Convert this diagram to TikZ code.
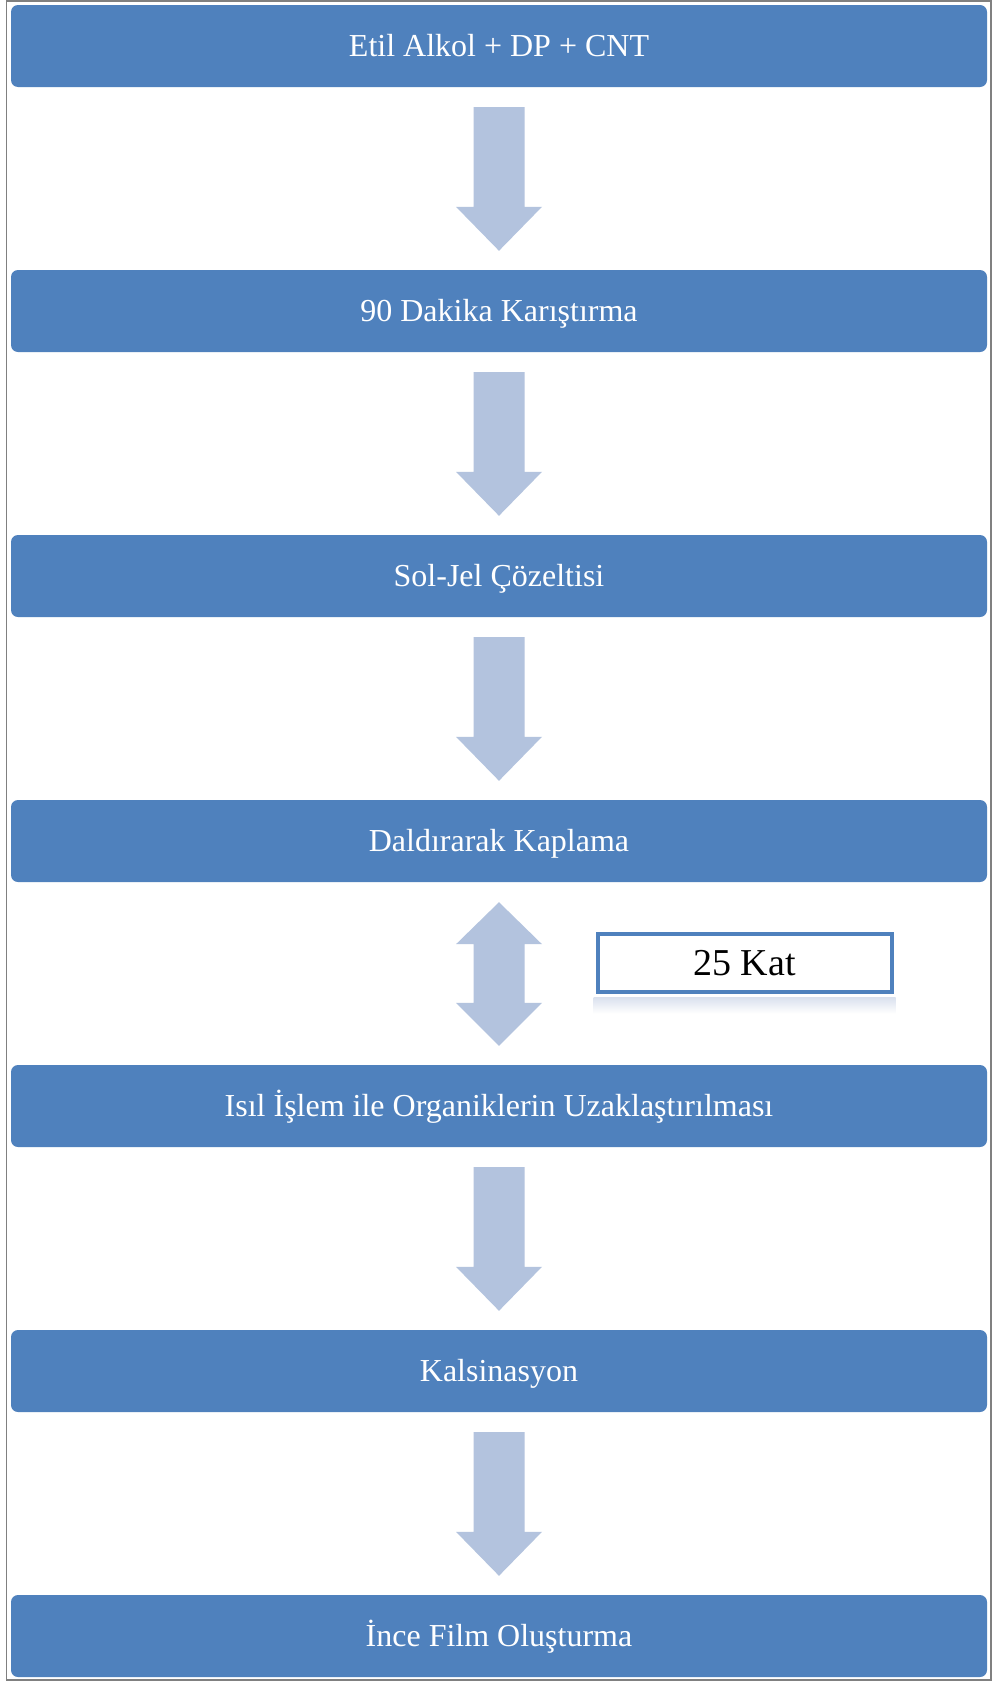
\documentclass[tikz,border=0pt]{standalone}
\usepackage{fontspec}
\setmainfont{Liberation Serif}
\usetikzlibrary{calc}
\definecolor{boxblue}{RGB}{79,129,189}
\definecolor{arrowblue}{RGB}{179,195,222}
\definecolor{framegray}{RGB}{128,128,128}
\definecolor{reflect}{RGB}{218,225,238}
\tikzset{
  stepbox/.style={fill=boxblue, rounded corners=7pt, minimum width=976pt, minimum height=82pt,
    inner sep=0pt, text=white, font=\fontsize{32}{38}\selectfont, draw=none,
    text height=21.6pt, text depth=0pt},
  katbox/.style={draw=boxblue, line width=4pt, fill=white, minimum width=294pt, minimum height=58pt,
    inner sep=0pt, text=black, font=\fontsize{38}{44}\selectfont,
    text height=25.7pt, text depth=0pt},
  blockarrow/.style={fill=arrowblue, draw=none},
  frameline/.style={draw=framegray, line width=1.5pt},
}
\newcommand\downblock[2]{%
  \fill[blockarrow] ($(#1.south)+(-25.5,20)$) -- ($(#1.south)+(25.5,20)$)
    -- ($(#2.north)+(25.5,-63)$) -- ($(#2.north)+(43,-63)$) -- ($(#2.north)+(0,-19)$)
    -- ($(#2.north)+(-43,-63)$) -- ($(#2.north)+(-25.5,-63)$) -- cycle;}
\begin{document}
\begin{tikzpicture}[x=1pt, y=-1pt]
  \useasboundingbox (0,0) rectangle (995,1681);
  \fill[white] (0,0) rectangle (995,1681);
  \draw[frameline] (6.5,1) rectangle (991,1680);

  \node[stepbox] (b1) at (499,46) {Etil Alkol + DP + CNT};
  \node[stepbox] (b2) at (499,311) {90 Dakika Karıştırma};
  \node[stepbox] (b3) at (499,576) {Sol-Jel Çözeltisi};
  \node[stepbox] (b4) at (499,841) {Daldırarak Kaplama};
  \node[stepbox] (b5) at (499,1106) {Isıl İşlem ile Organiklerin Uzaklaştırılması};
  \node[stepbox] (b6) at (499,1371) {Kalsinasyon};
  \node[stepbox] (b7) at (499,1636) {İnce Film Oluşturma};

  \downblock{b1}{b2}
  \downblock{b2}{b3}
  \downblock{b3}{b4}
  \downblock{b5}{b6}
  \downblock{b6}{b7}

  % double arrow between b4 and b5
  \fill[blockarrow] ($(b4.south)+(0,20)$) -- ($(b4.south)+(43,62)$) -- ($(b4.south)+(25.5,62)$)
    -- ($(b5.north)+(25.5,-62)$) -- ($(b5.north)+(43,-62)$) -- ($(b5.north)+(0,-19)$)
    -- ($(b5.north)+(-43,-62)$) -- ($(b5.north)+(-25.5,-62)$) -- ($(b4.south)+(-25.5,62)$)
    -- ($(b4.south)+(-43,62)$) -- cycle;

  \node[katbox] (kat) at (744.5,962.5) {25 Kat};
  \shade[top color=reflect, bottom color=white] ($(kat.south west)+(-2,4)$) rectangle ($(kat.south east)+(2,20)$);
\end{tikzpicture}
\end{document}
